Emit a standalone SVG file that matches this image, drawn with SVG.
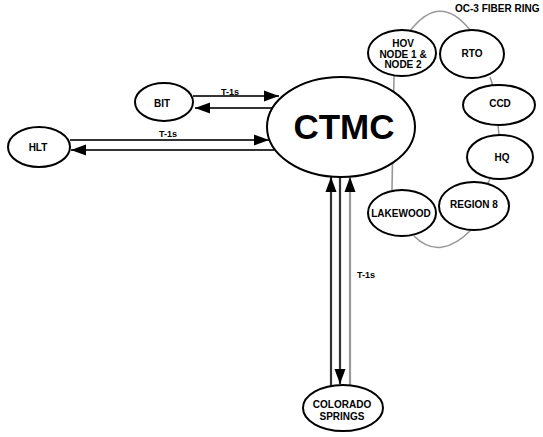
<svg xmlns="http://www.w3.org/2000/svg" width="543" height="437" viewBox="0 0 543 437">
<style>
.n{fill:#fff;stroke:#000;stroke-width:2}
.t{font-family:"Liberation Sans",Arial,sans-serif;font-weight:bold;font-size:10px;text-anchor:middle;fill:#000}
.ln{stroke:#333;stroke-width:2.2;fill:none}
.g{stroke:#999;stroke-width:1.6;fill:none}
.lbl{font-family:"Liberation Sans",Arial,sans-serif;font-weight:bold;font-size:9px;text-anchor:middle;fill:#000}
</style>
<defs>
<marker id="ah" markerUnits="userSpaceOnUse" markerWidth="16" markerHeight="12" refX="15" refY="6" orient="auto">
<path d="M0,0.5 L15,6 L0,11.5 z" fill="#000"/>
</marker>
</defs>
<rect width="543" height="437" fill="#fff"/>
<g id="connectors">
<path class="g" d="M394,76 L392,190"/>
<path class="g" d="M410,31 Q440,-8 470,30"/>
<path class="g" d="M490,77 L493,86"/>
<path class="g" d="M498,125 L499,135"/>
<path class="g" d="M490,179 L488,183"/>
<path class="g" d="M414,236 Q440,262 472,229"/>
<path class="ln" d="M193,96 L279,96" marker-end="url(#ah)"/>
<path class="ln" d="M276,108 L195,108" marker-end="url(#ah)"/>
<path class="ln" d="M70,140 L269,140" marker-end="url(#ah)"/>
<path class="ln" d="M274,150 L71,150" marker-end="url(#ah)"/>
<path class="ln" d="M331,386 L331,177" marker-end="url(#ah)"/>
<path class="ln" stroke="#000" d="M340,177 L340,384" marker-end="url(#ah)"/>
<path class="ln" style="stroke:#999" d="M350,386 L350,177" marker-end="url(#ah)"/>
<text class="lbl" x="230" y="95">T-1s</text>
<text class="lbl" x="168" y="137">T-1s</text>
<text class="lbl" x="366" y="278">T-1s</text>
<text class="lbl" x="455" y="12" style="text-anchor:start;font-size:10px">OC-3 FIBER RING</text>
</g>
<g id="ctmc">
<ellipse class="n" cx="341" cy="127" rx="74" ry="50"/>
<text class="t" x="344" y="139" style="font-size:35px">CTMC</text>
</g>
<g id="bit">
<ellipse class="n" cx="164" cy="102" rx="29" ry="19"/>
<text class="t" x="162" y="107">BIT</text>
</g>
<g id="hlt">
<ellipse class="n" cx="39" cy="147" rx="31" ry="20"/>
<text class="t" x="38" y="151">HLT</text>
</g>
<g id="colorado">
<ellipse class="n" cx="343" cy="408" rx="40" ry="23"/>
<text class="t" x="342" y="408">COLORADO</text>
<text class="t" x="342" y="420">SPRINGS</text>
</g>
<g id="hov">
<ellipse class="n" cx="402" cy="53" rx="34" ry="23"/>
<text class="t" x="403" y="47">HOV</text>
<text class="t" x="403" y="58">NODE 1 &amp;</text>
<text class="t" x="403" y="68">NODE 2</text>
</g>
<g id="rto">
<ellipse class="n" cx="472" cy="54" rx="32" ry="24"/>
<text class="t" x="472" y="57">RTO</text>
</g>
<g id="ccd">
<ellipse class="n" cx="499" cy="105" rx="36" ry="20"/>
<text class="t" x="500" y="107">CCD</text>
</g>
<g id="hq">
<ellipse class="n" cx="500" cy="157" rx="33" ry="22"/>
<text class="t" x="502" y="161">HQ</text>
</g>
<g id="region8">
<ellipse class="n" cx="474" cy="206" rx="35" ry="24"/>
<text class="t" x="474" y="208">REGION 8</text>
</g>
<g id="lakewood">
<ellipse class="n" cx="402" cy="213" rx="34" ry="23"/>
<text class="t" x="401" y="217">LAKEWOOD</text>
</g>
</svg>
